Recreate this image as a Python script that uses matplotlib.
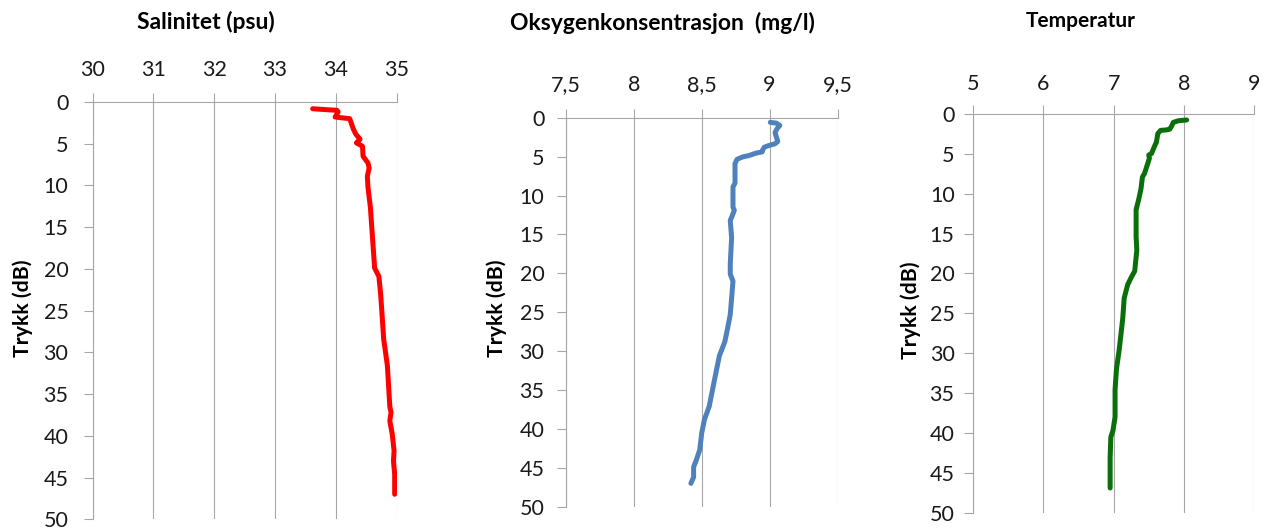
import matplotlib
matplotlib.use("Agg")
import matplotlib.pyplot as plt

plt.rcParams['font.family'] = ['Lato', 'DejaVu Sans']

# ---- data ----
sal_depth = [0.81, 1.0, 1.2, 1.8, 2.0, 3.25, 3.85, 4.45, 4.9, 5.3, 6.5, 7.3, 7.9, 8.9,
             10.2, 12.6, 19.9, 20.9, 23.1, 28.5, 30.0, 31.6, 36.5, 37.2, 38.2, 39.8,
             41.8, 43.0, 44.6, 47.0]
sal_value = [33.62, 34.02, 34.04, 33.99, 34.23, 34.29, 34.33, 34.40, 34.34, 34.44, 34.45,
             34.53, 34.55, 34.52, 34.53, 34.57, 34.64, 34.71, 34.74, 34.79, 34.82, 34.85,
             34.89, 34.91, 34.89, 34.93, 34.96, 34.95, 34.97, 34.97]

oxy_depth = [0.6, 0.7, 1.0, 1.4, 1.9, 2.5, 3.05, 3.35, 3.6, 3.8, 4.1, 4.4, 4.55, 4.85,
             5.05, 5.35, 5.9, 8.4, 8.9, 11.5, 11.9, 12.8, 13.2, 15.4, 18.8, 20.1, 21.0,
             23.2, 25.3, 27.1, 28.8, 30.6, 32.3, 34.9, 37.1, 38.8, 40.5, 42.7, 44.0,
             44.9, 46.2, 47.0]
oxy_value = [9.005, 9.05, 9.075, 9.055, 9.04, 9.05, 9.06, 9.04, 8.99, 8.96, 8.95, 8.945,
             8.90, 8.85, 8.80, 8.76, 8.745, 8.745, 8.73, 8.73, 8.74, 8.72, 8.71, 8.72,
             8.71, 8.71, 8.73, 8.72, 8.71, 8.69, 8.67, 8.63, 8.61, 8.58, 8.555, 8.52,
             8.50, 8.485, 8.46, 8.44, 8.44, 8.42]

tmp_depth = [0.75, 0.85, 1.05, 1.45, 1.9, 2.0, 2.05, 2.45, 3.5, 4.3, 4.95, 5.15, 5.55,
             7.45, 7.9, 9.35, 10.6, 12.0, 15.4, 17.1, 19.7, 20.5, 21.4, 23.1, 25.6,
             29.5, 32.0, 34.6, 38.0, 39.7, 40.5, 43.1, 46.9]
tmp_value = [8.04, 7.92, 7.85, 7.83, 7.80, 7.75, 7.67, 7.63, 7.61, 7.57, 7.54, 7.50, 7.51,
             7.44, 7.41, 7.39, 7.36, 7.32, 7.32, 7.33, 7.30, 7.25, 7.20, 7.15, 7.13,
             7.08, 7.04, 7.02, 7.02, 6.99, 6.96, 6.95, 6.95]

sal_ticks = [30, 31, 32, 33, 34, 35]
sal_labels = ['30', '31', '32', '33', '34', '35']
oxy_ticks = [7.5, 8.0, 8.5, 9.0, 9.5]
oxy_labels = ['7,5', '8', '8,5', '9', '9,5']
tmp_ticks = [5, 6, 7, 8, 9]
tmp_labels = ['5', '6', '7', '8', '9']
depth_ticks = [0, 5, 10, 15, 20, 25, 30, 35, 40, 45, 50]

titles = ['Salinitet (psu)', 'Oksygenkonsentrasjon  (mg/l)', 'Temperatur']
ylabel = 'Trykk (dB)'

W, H = 1274, 531
fig = plt.figure(figsize=(W / 100, H / 100), dpi=100)

GRID = '#A6A6A6'
TXT = '#1a1a1a'

def make_ax(left, right, top, bottom):
    return fig.add_axes([left / W, 1 - bottom / H, (right - left) / W, (bottom - top) / H])

panels = [
    dict(box=(92.7, 396.5, 102, 519.3), x=sal_value, y=sal_depth, ticks=sal_ticks,
         labels=sal_labels, color='#FF0000', xpad=9, ypad=11,
         title_xy=(206, 22), title_fs=16.5, ylab_xy=(23, 308)),
    dict(box=(566, 837.5, 117.7, 506.7), x=oxy_value, y=oxy_depth, ticks=oxy_ticks,
         labels=oxy_labels, color='#4F81BD', xpad=10, ypad=9,
         title_xy=(662, 23), title_fs=16.5, ylab_xy=(497, 308)),
    dict(box=(973.3, 1254, 114, 512.7), x=tmp_value, y=tmp_depth, ticks=tmp_ticks,
         labels=tmp_labels, color='#0A6E0A', xpad=8, ypad=7,
         title_xy=(1081, 21), title_fs=15, ylab_xy=(911, 310)),
]

for i, p in enumerate(panels):
    ax = make_ax(*p['box'])
    ax.plot(p['x'], p['y'], color=p['color'], lw=3.6, solid_capstyle='round',
            solid_joinstyle='round', zorder=3)
    ax.set_xlim(p['ticks'][0], p['ticks'][-1])
    ax.set_ylim(50, 0)
    ax.set_xticks(p['ticks'])
    ax.set_xticklabels(p['labels'])
    ax.set_yticks(depth_ticks)
    ax.xaxis.tick_top()
    ax.tick_params(axis='x', direction='out', length=6.5, width=0.8, color=GRID,
                   labelsize=15.5, labelcolor=TXT, pad=p['xpad'])
    ax.tick_params(axis='y', direction='out', length=6.5, width=0.8, color=GRID,
                   labelsize=15.5, labelcolor=TXT, pad=p['ypad'])
    ax.grid(axis='x', color=GRID, lw=0.8)
    for s in ['right', 'bottom']:
        ax.spines[s].set_visible(False)
    for s in ['left', 'top']:
        ax.spines[s].set_color(GRID)
        ax.spines[s].set_linewidth(0.8)
    ax.set_facecolor('none')
    fig.text(p['title_xy'][0] / W, 1 - p['title_xy'][1] / H, titles[i],
             ha='center', va='center', fontsize=p['title_fs'], fontweight='bold',
             color='black')
    fig.text(p['ylab_xy'][0] / W, 1 - p['ylab_xy'][1] / H, ylabel,
             ha='center', va='center', rotation=90, fontsize=15.3, fontweight='bold',
             color='black')

fig.savefig('out.png', dpi=100)
